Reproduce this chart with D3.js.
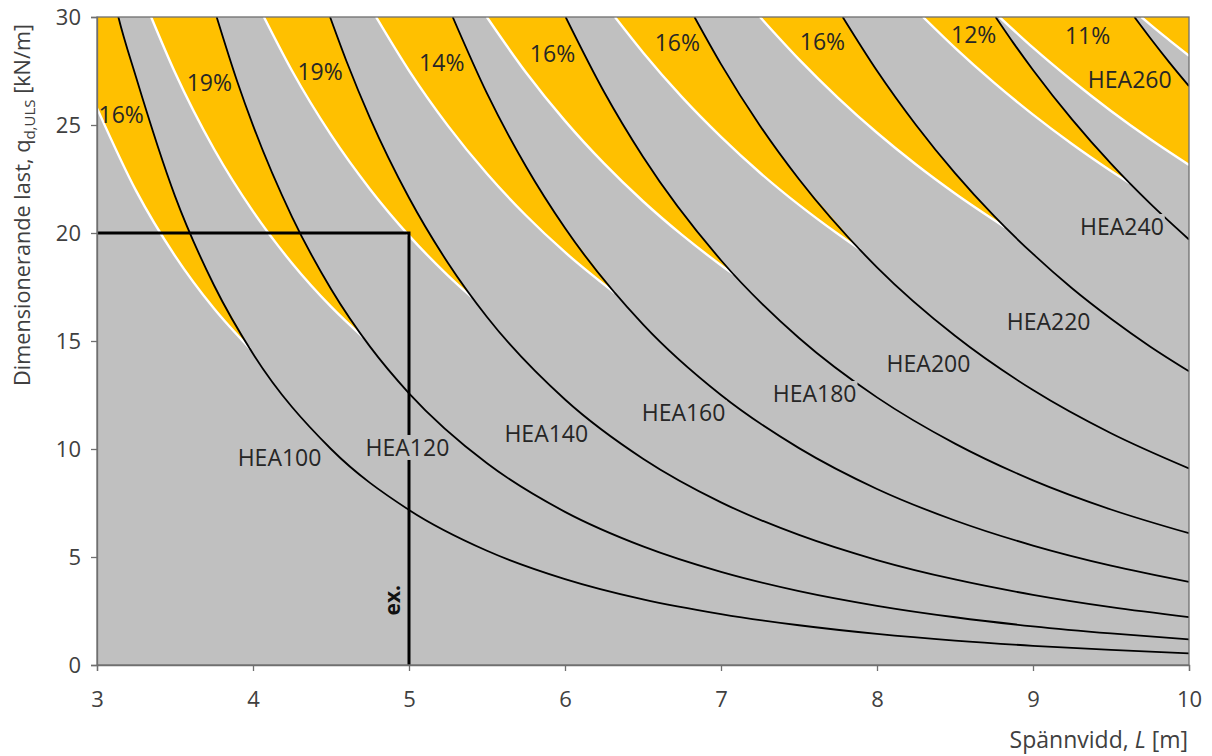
<!DOCTYPE html>
<html><head><meta charset="utf-8">
<script src="https://cdn.jsdelivr.net/npm/d3@7"></script>
<style>body{margin:0;background:#fff;} svg{display:block;font-family:'Open Sans',sans-serif;}</style>
</head><body><svg id="c" width="1212" height="756"></svg>
<script>
// ---------- data ----------
const xTicks = [3,4,5,6,7,8,9,10];
const yTicks = [0,5,10,15,20,25,30];
const profiles = ["HEA100","HEA120","HEA140","HEA160","HEA180","HEA200","HEA220","HEA240","HEA260","HEA280"];

// black curves: q_d,ULS [kN/m] vs span L [m]
const black100 = [[3,34.7],[3.137,30],[3.25,27.22],[3.5,21.71],[3.75,17.58],[4,14.41],[4.5,10.0],[5,7.18],[5.5,5.29],[6,3.98],[6.5,3.04],[7,2.36],[7.5,1.84],[8,1.44],[8.5,1.13],[9,0.89],[9.5,0.70],[10,0.54]];
const black120 = [[3.767,30],[3.9,26.99],[4,24.98],[4.25,20.75],[4.5,17.41],[4.75,14.74],[5,12.58],[5.5,9.34],[6,7.09],[6.5,5.49],[7,4.31],[7.5,3.42],[8,2.74],[8.5,2.21],[9,1.79],[9.5,1.46],[10,1.19]];
const black140 = [[4.494,30],[4.6,27.94],[4.75,25.32],[5,21.63],[5.25,18.61],[5.5,16.11],[6,12.29],[6.5,9.55],[7,7.53],[7.5,6.02],[8,4.86],[8.5,3.96],[9,3.25],[9.5,2.68],[10,2.22]];
const black160 = [[5.28,30],[5.5,26.46],[5.75,23.08],[6,20.23],[6.5,15.77],[7,12.50],[7.5,10.04],[8,8.15],[8.5,6.69],[9,5.53],[9.5,4.60],[10,3.85]];
const black180 = [[6.004,30],[6.25,26.54],[6.5,23.53],[7,18.74],[7.5,15.14],[8,12.39],[8.5,10.25],[9,8.55],[9.5,7.20],[10,6.10]];
const black200 = [[6.83,30],[7,27.82],[7.25,24.97],[7.5,22.49],[8,18.41],[8.5,15.24],[9,12.73],[9.5,10.73],[10,9.10]];
const black220 = [[7.78,30],[8,27.51],[8.25,25.0],[8.5,22.77],[8.75,20.79],[9,19.03],[9.25,17.44],[9.5,16.03],[9.75,14.75],[10,13.60]];
const black240 = [[8.76,30],[8.875,28.79],[9,27.55],[9.25,25.26],[9.5,23.21],[9.75,21.37],[10,19.70]];
const black260 = [[9.65,30],[9.75,29.04],[9.875,27.89],[10,26.8]];
const black280 = [[9.9,37],[10,35.5]];

// white curves (lower edge of each yellow band)
const white100 = [[3,25.78],[3.25,21.96],[3.5,18.94],[3.75,16.50],[3.98,14.65]];
const white120 = [[3.347,30],[3.5,27.43],[3.75,23.89],[4,21.0],[4.25,18.60],[4.5,16.59],[4.705,15.18]];
const white140 = [[4.07,30],[4.25,27.51],[4.5,24.54],[4.75,22.03],[5,19.88],[5.25,18.03],[5.4,17.04]];
const white160 = [[4.789,30],[5,27.52],[5.25,24.96],[5.5,22.74],[5.75,20.81],[6,19.11],[6.32,17.22]];
const white180 = [[5.499,30],[5.75,27.43],[6,25.19],[6.25,23.22],[6.5,21.47],[6.75,19.91],[7,18.51],[7.08,18.09]];
const white200 = [[6.32,30],[6.5,28.36],[6.75,26.29],[7,24.45],[7.25,22.79],[7.5,21.30],[7.75,19.95],[7.89,19.24]];
const white220 = [[7.25,30],[7.5,28.04],[7.75,26.26],[8,24.64],[8.25,23.17],[8.5,21.83],[8.82,20.27]];
const white240 = [[8.295,30],[8.5,28.57],[8.75,26.96],[9,25.48],[9.25,24.12],[9.5,22.87],[9.62,22.30]];
const white260 = [[8.785,30],[9,28.58],[9.25,27.06],[9.5,25.65],[9.75,24.35],[10,23.15]];
const white280 = [[9.695,30],[9.75,29.66],[9.875,28.92],[10,28.2]];

const blacks = [black100,black120,black140,black160,black180,black200,black220,black240,black260,black280];
const whites = [white100,white120,white140,white160,white180,white200,white220,white240,white260,white280];

// band percentages and label anchors (data coords)
const pctText = ["16%","19%","19%","14%","16%","16%","16%","12%","11%"];
const pctAt   = [[3.155,25.46],[3.72,26.94],[4.43,27.47],[5.21,27.86],[5.92,28.28],[6.72,28.78],[7.65,28.86],[8.62,29.17],[9.35,29.12]];
const nameAt  = [[4.17,9.58],[4.99,10.05],[5.88,10.69],[6.76,11.67],[7.60,12.55],[8.33,13.94],[9.10,15.88],[9.57,20.28],[9.62,27.08]];
const nameOnGray = [true,true,true,true,true,true,true,true,false];

// worked example
const exampleL = 5, exampleQ = 20;

// ---------- drawing ----------
const svg = d3.select("#c");
const x = d3.scaleLinear([3,10],[97,1189]);
const y = d3.scaleLinear([0,30],[665,17]);
const GRAY = "#c0c0c0", YEL = "#ffc000", AXC = "#6f6f6f";

svg.append("defs").append("clipPath").attr("id","clip")
  .append("rect").attr("x",x(3)).attr("y",y(30)).attr("width",x(10)-x(3)).attr("height",y(0)-y(30));

const plot = svg.append("g").attr("clip-path","url(#clip)");
plot.append("rect").attr("x",x(3)).attr("y",y(30)).attr("width",x(10)-x(3)).attr("height",y(0)-y(30)).attr("fill",GRAY);

const line = d3.line().x(d=>x(d[0])).y(d=>y(d[1])).curve(d3.curveMonotoneX);
const poly = d3.line().x(d=>x(d[0])).y(d=>y(d[1]));

function samplePath(d){
  const p = document.createElementNS("http://www.w3.org/2000/svg","path");
  p.setAttribute("d",d);
  svg.node().appendChild(p);
  const L = p.getTotalLength(), out=[];
  const n = Math.max(2,Math.ceil(L/3));
  for(let k=0;k<=n;k++){const q=p.getPointAtLength(L*k/n); out.push([q.x,q.y]);}
  p.remove();
  return out;
}

// yellow bands: between white curve (below) and black curve (above)
whites.forEach((w,i)=>{
  const b = blacks[i];
  const lastX = w[w.length-1][0];
  const bPts = b.filter(p=>p[0] <= lastX + 1e-9);
  const wPath = samplePath(line(w));
  const bPath = samplePath(line(bPts.length>1?bPts:b));
  const pts = wPath.concat(bPath.reverse());
  plot.append("path").attr("d","M"+pts.map(p=>p.join(",")).join("L")+"Z").attr("fill",YEL);
});

// white lines
whites.forEach(w=>{
  plot.append("path").attr("d",line(w)).attr("fill","none").attr("stroke","#fff").attr("stroke-width",2.4);
});
// black lines
blacks.forEach(b=>{
  plot.append("path").attr("d",line(b)).attr("fill","none").attr("stroke","#000").attr("stroke-width",1.8);
});

// example lines
svg.append("path").attr("d",poly([[3,exampleQ],[exampleL,exampleQ],[exampleL,0]]))
  .attr("fill","none").attr("stroke","#000").attr("stroke-width",3);

// labels
const labG = svg.append("g").attr("font-size",23).attr("fill","#262626");
nameAt.forEach((p,i)=>{
  const t = labG.append("text").attr("x",x(p[0])).attr("y",y(p[1])).attr("dy","0.35em")
    .attr("text-anchor","middle").text(profiles[i]);
  if(nameOnGray[i]){
    const bb = t.node().getBBox();
    labG.insert("rect","text").attr("x",bb.x-1).attr("y",bb.y+4).attr("width",bb.width+2).attr("height",bb.height-7).attr("fill",GRAY);
  }
});
labG.selectAll("rect").lower();
pctText.forEach((s,i)=>{
  labG.append("text").attr("x",x(pctAt[i][0])).attr("y",y(pctAt[i][1])).attr("dy","0.35em")
    .attr("text-anchor","middle").text(s);
});
svg.append("text").attr("transform",`translate(${x(4.94)},${y(3.0)}) rotate(-90)`)
  .attr("text-anchor","middle").attr("font-size",21).attr("font-weight","bold").attr("fill","#111").text("ex.");

// plot border
svg.append("rect").attr("x",x(3)).attr("y",y(30)).attr("width",x(10)-x(3)).attr("height",y(0)-y(30))
  .attr("fill","none").attr("stroke",AXC).attr("stroke-width",1.3);

// axes
const ax = svg.append("g").attr("transform",`translate(0,${y(0)})`)
  .call(d3.axisBottom(x).tickValues(xTicks).tickSize(6).tickPadding(20).tickFormat(d3.format("d")));
const ay = svg.append("g").attr("transform",`translate(${x(3)},0)`)
  .call(d3.axisLeft(y).tickValues(yTicks).tickSize(6).tickPadding(10).tickFormat(d3.format("d")));
[ax,ay].forEach(g=>{
  g.select(".domain").attr("stroke",AXC).attr("stroke-width",1.3);
  g.selectAll(".tick line").attr("stroke",AXC).attr("stroke-width",1.3);
  g.selectAll(".tick text").attr("font-size",22).attr("fill","#404040").attr("font-family","'Open Sans',sans-serif");
});

// axis titles
const xt = svg.append("text").attr("x",1188).attr("y",748).attr("text-anchor","end").attr("font-size",23).attr("fill","#404040");
xt.append("tspan").text("Spännvidd, ");
xt.append("tspan").attr("font-style","italic").text("L");
xt.append("tspan").text(" [m]");

const yt = svg.append("text").attr("transform","translate(30,205) rotate(-90)").attr("text-anchor","middle")
  .attr("font-size",21.7).attr("fill","#404040");
yt.append("tspan").text("Dimensionerande last, q");
yt.append("tspan").attr("font-size",15).attr("dy",5).text("d,ULS");
yt.append("tspan").attr("dy",-5).text(" [kN/m]");
</script></body></html>
